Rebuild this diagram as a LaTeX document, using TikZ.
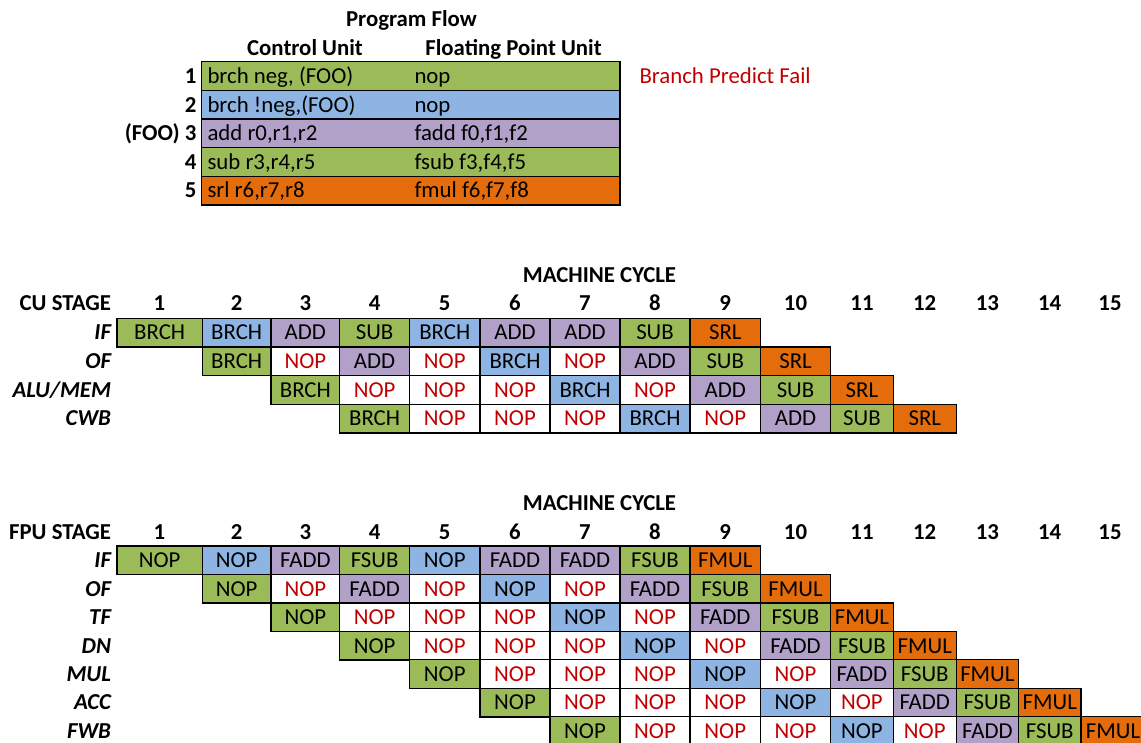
\documentclass[tikz,border=0pt]{standalone}
\usepackage{fontspec}
\setmainfont{Carlito}
\definecolor{cg}{HTML}{9BBB59}
\definecolor{cb}{HTML}{8DB4E2}
\definecolor{cp}{HTML}{B1A0C7}
\definecolor{co}{HTML}{E46C0A}
\definecolor{cr}{HTML}{C00000}
\def\xs{{117,202.3,271,339.7,409.5,480,550,620,690,760.5,830.5,893.3,956.2,1018.5,1081,1145}}
\def\xc{{159.5,236.6,305.3,374.6,444.7,515,585,655,725.2,795.5,862,924.7,987.3,1049.7,1110}}
\begin{document}
\begin{tikzpicture}[x=1pt,y=-1pt,
  txt/.style={inner sep=0pt, outer sep=0pt, font=\fontsize{22.8}{27}\selectfont, text height=14.7pt, text depth=0pt},
  bf/.style={txt, font=\fontsize{22.8}{27}\selectfont\bfseries},
  bfit/.style={txt, font=\fontsize{22.8}{27}\selectfont\bfseries\itshape},
  cell/.style={txt, draw=black, line width=1.3pt, anchor=north west, minimum height=28.6pt},
  G/.style={fill=cg}, B/.style={fill=cb}, P/.style={fill=cp}, O/.style={fill=co},
  W/.style={fill=white, text=cr},
  redtxt/.style={txt, text=cr},
]
\useasboundingbox (0,0) rectangle (1141,742);
\clip (0,0) rectangle (1141,742);

% ---------- Program flow table ----------
\node[bf] (pf) at (411.5,19) {Program Flow};
\node[bf] (cuh) at (305,48) {Control Unit};
\node[bf] (fpuh) at (513.5,48) {Floating Point Unit};
\foreach \i/\s/\y/\lab/\cu/\fp in {
  1/G/61.7/1/{brch neg, (FOO)}/nop,
  2/B/90.4/2/{brch !neg,(FOO)}/nop,
  3/P/119.0/{(FOO) 3}/{add r0,r1,r2}/{fadd f0,f1,f2},
  4/G/147.7/4/{sub r3,r4,r5}/{fsub f3,f4,f5},
  5/O/176.3/5/{srl r6,r7,r8}/{fmul f6,f7,f8}} {
  \node[cell, \s, minimum width=418.3pt] (row\i) at (201.7,\y) {};
  \node[txt, anchor=west] (row\i cu) at (207.5,\y+14.33) {\cu};
  \node[txt, anchor=west] (row\i fp) at (414.5,\y+14.33) {\fp};
  \node[bf, anchor=east] (row\i n) at (196.5,\y+14.33) {\lab};
}
\node[redtxt, anchor=west] (bpf) at (639.5,76) {Branch Predict Fail};

% ---------- CU pipeline ----------
\node[bf] (mc1) at (599.5,275) {MACHINE CYCLE};
\node[bf, anchor=east] (custage) at (111,303.5) {CU STAGE};
\foreach \c in {1,...,15} {
  \pgfmathsetmacro\cx{\xc[\c-1]}
  \node[bf] (cun\c) at (\cx,303.5) {\c};
}
\foreach \row/\lab/\y/\cells in {
  cuif/IF/318.3/{1/G/BRCH,2/B/BRCH,3/P/ADD,4/G/SUB,5/B/BRCH,6/P/ADD,7/P/ADD,8/G/SUB,9/O/SRL},
  cuof/OF/346.95/{2/G/BRCH,3/W/NOP,4/P/ADD,5/W/NOP,6/B/BRCH,7/W/NOP,8/P/ADD,9/G/SUB,10/O/SRL},
  cualu/ALU\slash MEM/375.6/{3/G/BRCH,4/W/NOP,5/W/NOP,6/W/NOP,7/B/BRCH,8/W/NOP,9/P/ADD,10/G/SUB,11/O/SRL},
  cucwb/CWB/404.25/{4/G/BRCH,5/W/NOP,6/W/NOP,7/W/NOP,8/B/BRCH,9/W/NOP,10/P/ADD,11/G/SUB,12/O/SRL}} {
  \node[bfit, anchor=east] (\row-lab) at (111,\y+14.3) {\lab};
  \foreach \c/\s/\t in \cells {
    \pgfmathsetmacro\xl{\xs[\c-1]}
    \pgfmathsetmacro\xr{\xs[\c]}
    \node[cell, \s, minimum width={\xr-\xl}] (\row-\c) at (\xl,\y) {\t};
  }
}

% ---------- FPU pipeline ----------
\node[bf] (mc2) at (599.5,503.3) {MACHINE CYCLE};
\node[bf, anchor=east] (fpustage) at (111,531.7) {FPU STAGE};
\foreach \c in {1,...,15} {
  \pgfmathsetmacro\cx{\xc[\c-1]}
  \node[bf] (fpn\c) at (\cx,531.7) {\c};
}
\foreach \row/\lab/\y/\cells in {
  fpif/IF/546/{1/G/NOP,2/B/NOP,3/P/FADD,4/G/FSUB,5/B/NOP,6/P/FADD,7/P/FADD,8/G/FSUB,9/O/FMUL},
  fpof/OF/574.45/{2/G/NOP,3/W/NOP,4/P/FADD,5/W/NOP,6/B/NOP,7/W/NOP,8/P/FADD,9/G/FSUB,10/O/FMUL},
  fptf/TF/602.9/{3/G/NOP,4/W/NOP,5/W/NOP,6/W/NOP,7/B/NOP,8/W/NOP,9/P/FADD,10/G/FSUB,11/O/FMUL},
  fpdn/DN/631.35/{4/G/NOP,5/W/NOP,6/W/NOP,7/W/NOP,8/B/NOP,9/W/NOP,10/P/FADD,11/G/FSUB,12/O/FMUL},
  fpmul/MUL/659.8/{5/G/NOP,6/W/NOP,7/W/NOP,8/W/NOP,9/B/NOP,10/W/NOP,11/P/FADD,12/G/FSUB,13/O/FMUL},
  fpacc/ACC/688.25/{6/G/NOP,7/W/NOP,8/W/NOP,9/W/NOP,10/B/NOP,11/W/NOP,12/P/FADD,13/G/FSUB,14/O/FMUL},
  fpfwb/FWB/716.7/{7/G/NOP,8/W/NOP,9/W/NOP,10/W/NOP,11/B/NOP,12/W/NOP,13/P/FADD,14/G/FSUB,15/O/FMUL}} {
  \node[bfit, anchor=east] (\row-lab) at (111,\y+14.3) {\lab};
  \foreach \c/\s/\t in \cells {
    \pgfmathsetmacro\xl{\xs[\c-1]}
    \pgfmathsetmacro\xr{\xs[\c]}
    \node[cell, \s, minimum width={\xr-\xl}] (\row-\c) at (\xl,\y) {\t};
  }
}
\end{tikzpicture}
\end{document}
